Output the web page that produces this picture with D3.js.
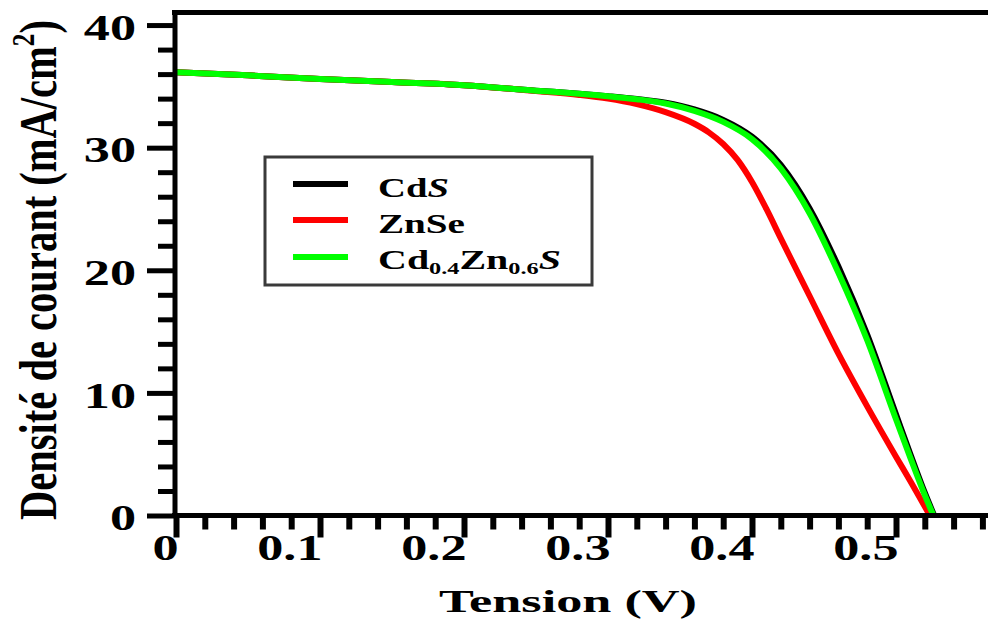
<!DOCTYPE html>
<html>
<head>
<meta charset="utf-8">
<script src="https://cdn.jsdelivr.net/npm/d3@7"></script>
<style>
  body { margin: 0; background: #fff; }
  svg { display: block; }
  text { font-family: "Liberation Serif", "Times New Roman", serif; font-weight: bold; fill: #000; }
</style>
</head>
<body>
<svg id="chart" width="988" height="625"></svg>
<script>
// J-V characteristics of three buffer layers (voltage in V, current density in mA/cm²)
const voltageCdS = [0, 0.05, 0.1, 0.15, 0.2, 0.25, 0.28, 0.30, 0.32, 0.34, 0.36, 0.38, 0.40, 0.42, 0.44, 0.46, 0.48, 0.50, 0.51, 0.52, 0.5265];
const currentCdS = [36.15, 35.9, 35.6, 35.35, 35.1, 34.65, 34.4, 34.2, 33.97, 33.66, 33.12, 32.27, 30.9, 28.6, 25.05, 20.3, 14.75, 8.25, 5.0, 1.86, 0];

const voltageZnSe = [0, 0.05, 0.1, 0.15, 0.2, 0.25, 0.28, 0.30, 0.32, 0.34, 0.36, 0.37, 0.38, 0.39, 0.40, 0.41, 0.42, 0.44, 0.46, 0.48, 0.50, 0.51, 0.5235];
const currentZnSe = [36.15, 35.9, 35.6, 35.35, 35.1, 34.62, 34.3, 34.0, 33.55, 32.9, 31.95, 31.25, 30.3, 29.0, 27.2, 25.0, 22.6, 17.9, 13.2, 8.9, 4.8, 2.8, 0];

const voltageCdZnS = [0, 0.05, 0.1, 0.15, 0.2, 0.25, 0.28, 0.30, 0.32, 0.34, 0.36, 0.38, 0.40, 0.42, 0.44, 0.46, 0.48, 0.50, 0.51, 0.52, 0.526];
const currentCdZnS = [36.15, 35.9, 35.6, 35.35, 35.1, 34.65, 34.4, 34.2, 33.95, 33.6, 33.0, 32.1, 30.7, 28.3, 24.65, 19.8, 14.3, 7.85, 4.7, 1.66, 0];

const seriesColors = ["#000000", "#ff0000", "#00ff00"];
const xMajorTicks = [0, 0.1, 0.2, 0.3, 0.4, 0.5];
const xMinorTicks = [0.02, 0.04, 0.06, 0.08, 0.12, 0.14, 0.16, 0.18, 0.22, 0.24, 0.26, 0.28,
                     0.32, 0.34, 0.36, 0.38, 0.42, 0.44, 0.46, 0.48, 0.52, 0.54, 0.56];
const yMajorTicks = [0, 10, 20, 30, 40];
const yMinorTicks = [2, 4, 6, 8, 12, 14, 16, 18, 22, 24, 26, 28, 32, 34, 36, 38];

const svg = d3.select("#chart");
const x = d3.scaleLinear().domain([0, 0.5625]).range([176, 986]);
const y = d3.scaleLinear().domain([0, 41]).range([515.5, 12.8]);

// stretch a text horizontally so that its rendered width equals target
function fitWidth(sel, target, tx, ty) {
  const len = sel.node().getComputedTextLength();
  sel.attr("transform", `translate(${tx},${ty}) scale(${target / len},1)`);
}

// curves (black first, green on top)
const line = d3.line().x(d => x(d[0])).y(d => y(d[1])).curve(d3.curveMonotoneX);
const series = [
  d3.zip(voltageCdS, currentCdS),
  d3.zip(voltageZnSe, currentZnSe),
  d3.zip(voltageCdZnS, currentCdZnS)
];
svg.append("g").selectAll("path").data(series).join("path")
  .attr("d", line)
  .attr("fill", "none")
  .attr("stroke", (d, i) => seriesColors[i])
  .attr("stroke-width", 6)
  .attr("stroke-linejoin", "round")
  .attr("stroke-linecap", "butt");

// bottom axis
const xAxisG = svg.append("g").attr("transform", `translate(0,${y(0)})`);
xAxisG.append("g").call(d3.axisBottom(x).tickValues(xMinorTicks).tickSize(14).tickFormat(""));
xAxisG.append("g").attr("class", "major")
  .call(d3.axisBottom(x).tickValues(xMajorTicks).tickSize(22)
    .tickFormat(d => d === 0 ? "0" : d.toFixed(1)));
xAxisG.selectAll(".domain").remove();
xAxisG.selectAll(".tick line").attr("stroke", "#000").attr("stroke-width", 6);
xAxisG.selectAll(".major .tick text")
  .attr("x", 0).attr("y", 0).attr("dy", null)
  .attr("text-anchor", "end")
  .attr("font-size", 36)
  .attr("transform", "translate(2,44) scale(1.45,1)");

// left axis
const yAxisG = svg.append("g").attr("transform", `translate(${x(0) - 1},0)`);
yAxisG.append("g").call(d3.axisLeft(y).tickValues(yMinorTicks).tickSize(17).tickFormat(""));
yAxisG.append("g").attr("class", "major")
  .call(d3.axisLeft(y).tickValues(yMajorTicks).tickSize(28).tickFormat(d3.format("d")));
yAxisG.selectAll(".domain").remove();
yAxisG.selectAll(".tick line").attr("stroke", "#000").attr("stroke-width", 5);
yAxisG.selectAll(".major .tick text")
  .attr("x", 0).attr("y", 0).attr("dy", "0.34em")
  .attr("text-anchor", "end")
  .attr("font-size", 36)
  .attr("transform", "translate(-39,2) scale(1.45,1)");

// frame lines
svg.append("line").attr("x1", x(0) - 1).attr("x2", x(0) - 1).attr("y1", 10).attr("y2", y(0) + 2.5)
  .attr("stroke", "#000").attr("stroke-width", 5);
svg.append("line").attr("x1", x(0) - 4).attr("x2", 988).attr("y1", y(0)).attr("y2", y(0))
  .attr("stroke", "#000").attr("stroke-width", 5);
svg.append("line").attr("x1", x(0) - 4).attr("x2", 988).attr("y1", 12.5).attr("y2", 12.5)
  .attr("stroke", "#000").attr("stroke-width", 5);

// axis titles
const xTitle = svg.append("text").attr("text-anchor", "middle").attr("font-size", 31).text("Tension (V)");
fitWidth(xTitle, 258, 568, 612);

const yTitle = svg.append("text").attr("text-anchor", "middle").attr("font-size", 40);
yTitle.append("tspan").text("Densité de courant (mA/cm");
yTitle.append("tspan").attr("font-size", 25).attr("dy", -17).text("2");
yTitle.append("tspan").attr("dy", 17).text(")");
{
  const len = yTitle.node().getComputedTextLength();
  yTitle.attr("transform", `translate(56,270) rotate(-90) scale(${500 / len},1.3)`);
}

// legend
const legend = svg.append("g");
legend.append("rect").attr("x", 265).attr("y", 157).attr("width", 327).attr("height", 128)
  .attr("fill", "#fff").attr("stroke", "#3a3a3a").attr("stroke-width", 3);
const legendRows = [
  { y: 184, base: 197, width: 71 },
  { y: 220, base: 233, width: 87 },
  { y: 257, base: 269, width: 183 }
];
legendRows.forEach((r, i) => {
  legend.append("line").attr("x1", 293).attr("x2", 348).attr("y1", r.y).attr("y2", r.y)
    .attr("stroke", seriesColors[i]).attr("stroke-width", 6);
});
const t0 = legend.append("text").attr("font-size", 28);
t0.append("tspan").text("Cd");
t0.append("tspan").attr("font-style", "italic").text("S");
fitWidth(t0, legendRows[0].width, 378, legendRows[0].base);

const t1 = legend.append("text").attr("font-size", 28).text("ZnSe");
fitWidth(t1, legendRows[1].width, 378, legendRows[1].base);

const t2 = legend.append("text").attr("font-size", 28);
t2.append("tspan").text("Cd");
t2.append("tspan").attr("font-size", 17).attr("dy", 5).text("0.4");
t2.append("tspan").attr("dy", -5).text("Zn");
t2.append("tspan").attr("font-size", 17).attr("dy", 5).text("0.6");
t2.append("tspan").attr("dy", -5).attr("font-style", "italic").text("S");
fitWidth(t2, legendRows[2].width, 378, legendRows[2].base);
</script>
</body>
</html>
